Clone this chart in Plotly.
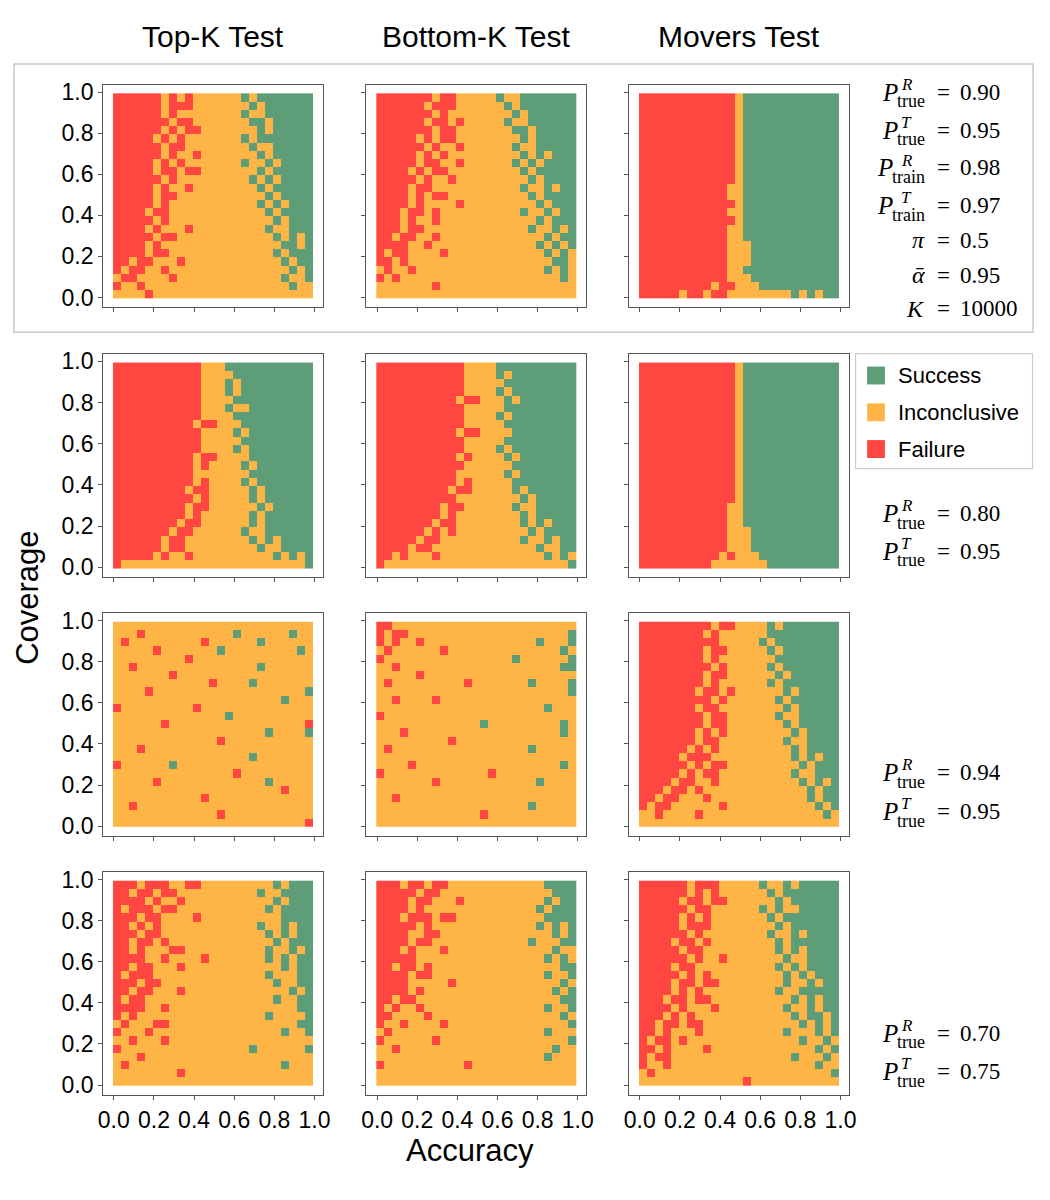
import plotly.graph_objects as go

# the page has an 8px body margin, so a 1034x1184 figure fills the 1050x1200 window exactly
PAGE_W, PAGE_H = 1050, 1200
MARGIN = 8
W, H = PAGE_W - 2 * MARGIN, PAGE_H - 2 * MARGIN

TESTS = ["Top-K Test", "Bottom-K Test", "Movers Test"]
OUTCOMES = ["Success", "Inconclusive", "Failure"]
OUTCOME_CODE = {"R": 0, "O": 1, "G": 2}
COLORS = {"Failure": "#ff4640", "Inconclusive": "#ffb545", "Success": "#5d9e79"}
TICKS = [0.0, 0.2, 0.4, 0.6, 0.8, 1.0]

# outcome grids: first string = coverage ~0.98, last = ~0.02,
# characters run over accuracy 0 -> 1.  R = failure, O = inconclusive, G = success
TOPK_090 = [
    "RRRRRROROROOOOOOGOGGGGGGG",
    "RRRRRRORRROOOOOOOGOGGGGGG",
    "RRRRRROROOOOOOOOGOOGGGGGG",
    "RRRRRRRORROOOOOOOGGOGGGGG",
    "RRRRRRORORROOOOOOOGOGGGGG",
    "RRRRROROROOOOOOOGOGGGGGGG",
    "RRRRRRORROOOOOOOOGOOGGGGG",
    "RRRRRROROOROOOOOOOGOGGGGG",
    "RRRRROROROOOOOOOGOOGOGGGG",
    "RRRRRORRORROOOOOOOGOGGGGG",
    "RRRRRROROOOOOOOOOGOGOGGGG",
    "RRRRROROOROOOOOOOOGOGGGGG",
    "RRRRRORROOOOOOOOOOOGOGGGG",
    "RRRRROROOOOOOOOOOOGOGOGGG",
    "RRRRORROOOOOOOOOOOOGOGGGG",
    "RRRRROROOOOOOOOOOOOOGOGGG",
    "RRRROROOOROOOOOOOOOGOOGGG",
    "RRRRRORROOOOOOOOOOOOGOGOG",
    "RRRROROOOOOOOOOOOOOOOGGOG",
    "RRRRORROOOOOOOOOOOOOGOGGG",
    "RRORROOOROOOOOOOOOOOOGOGG",
    "RORROOROOOOOOOOOOOOOOOGOG",
    "ORROOOOROOOOOOOOOOOOOGOOG",
    "ROOROOOOOOOOOOOOOOOOOOGOO",
    "OOOOROOOOOOOOOOOOOOOOOOOO",
]
BOTTOMK_090 = [
    "RRRRRRRORROOOOOGOOGGGGGGG",
    "RRRRRRORRROOOOOOGOGGGGGGG",
    "RRRRRRROROOOOOOOOGOGGGGGG",
    "RRRRRRORROROOOOOGOOGGGGGG",
    "RRRRRRRORROOOOOOOGGOGGGGG",
    "RRRRRORORROOOOOOOOGOGGGGG",
    "RRRRRROROOROOOOOOGOOGGGGG",
    "RRRRROROROOOOOOOOOGOGOGGG",
    "RRRRRORROOROOOOOOGOGOGGGG",
    "RRRRORORROOOOOOOOOGOGGGGG",
    "RRRRROROOROOOOOOOOOGOGGGG",
    "RRRRORROOOOOOOOOOOGOOGOGG",
    "RRRRORORROOOOOOOOOOGOGGGG",
    "RRRROROOOOROOOOOOOOOGOGGG",
    "RRRORROROOOOOOOOOOGOOGOGG",
    "RRROROOROOOOOOOOOOOOGOGGG",
    "RRRORROOOOOOOOOOOOOGOOGOG",
    "RRORROOROOOOOOOOOOOOOGOGG",
    "RRRROOROOOOOOOOOOOOOGOGOG",
    "RORROOOOROOOOOOOOOOOOGOGO",
    "RROROOOOOOOOOOOOOOOOOOGGO",
    "OROOROOOOOOOOOOOOOOOOGOGO",
    "ROROOOOOOOOOOOOOOOOOOOOGO",
    "OOOOOOOROOOOOOOOOOOOOOOOO",
    "OOOOOOOOOOOOOOOOOOOOOOOOO",
]
MOVERS_090 = [
    "RRRRRRRRRRRROGGGGGGGGGGGG",
    "RRRRRRRRRRRROGGGGGGGGGGGG",
    "RRRRRRRRRRRROGGGGGGGGGGGG",
    "RRRRRRRRRRRROGGGGGGGGGGGG",
    "RRRRRRRRRRRROGGGGGGGGGGGG",
    "RRRRRRRRRRRROGGGGGGGGGGGG",
    "RRRRRRRRRRRROGGGGGGGGGGGG",
    "RRRRRRRRRRRROGGGGGGGGGGGG",
    "RRRRRRRRRRRROGGGGGGGGGGGG",
    "RRRRRRRRRRRROGGGGGGGGGGGG",
    "RRRRRRRRRRRROGGGGGGGGGGGG",
    "RRRRRRRRRRROOGGGGGGGGGGGG",
    "RRRRRRRRRRROOGGGGGGGGGGGG",
    "RRRRRRRRRRRROGGGGGGGGGGGG",
    "RRRRRRRRRRROOGGGGGGGGGGGG",
    "RRRRRRRRRRRROGGGGGGGGGGGG",
    "RRRRRRRRRRROOGGGGGGGGGGGG",
    "RRRRRRRRRRROOGGGGGGGGGGGG",
    "RRRRRRRRRRROOOGGGGGGGGGGG",
    "RRRRRRRRRRROOOGGGGGGGGGGG",
    "RRRRRRRRRRROOOGGGGGGGGGGG",
    "RRRRRRRRRRROOGGGGGGGGGGGG",
    "RRRRRRRRRRROOOGGGGGGGGGGG",
    "RRRRRRRRRORROOOGGGGGGGGGG",
    "RRRRRORRORROOOOOOOOGOGOGG",
]
TOPK_080 = [
    "RRRRRRRRRRROOOGGGGGGGGGGG",
    "RRRRRRRRRRROOOOGGGGGGGGGG",
    "RRRRRRRRRRROOOGOGGGGGGGGG",
    "RRRRRRRRRRROOOGOGGGGGGGGG",
    "RRRRRRRRRRROOOOGGGGGGGGGG",
    "RRRRRRRRRRROOOGOOGGGGGGGG",
    "RRRRRRRRRRROOOOGGGGGGGGGG",
    "RRRRRRRRRRORROOOGGGGGGGGG",
    "RRRRRRRRRRROOOOGOGGGGGGGG",
    "RRRRRRRRRRROOOOOGGGGGGGGG",
    "RRRRRRRRRRROOOOGOGGGGGGGG",
    "RRRRRRRRRRORROOOOGGGGGGGG",
    "RRRRRRRRRROROOOOGOGGGGGGG",
    "RRRRRRRRRROOOOOOOGGGGGGGG",
    "RRRRRRRRRROROOOOGOGGGGGGG",
    "RRRRRRRRRORROOOOOGOGGGGGG",
    "RRRRRRRRRROROOOOOGOGGGGGG",
    "RRRRRRRRRORROOOOOOGOGGGGG",
    "RRRRRRRRROROOOOOOGOGGGGGG",
    "RRRRRRRRORROOOOOOGOGGGGGG",
    "RRRRRRRORROOOOOOGOOGGGGGG",
    "RRRRRRORROOOOOOOOGOGOGGGG",
    "RRRRRRORROOOOOOOOOGOOGGGG",
    "RRRRROROOROOOOOOOOOOGOGOG",
    "ROOOOOOOOOOOOOOOOOOOOOOOG",
]
BOTTOMK_080 = [
    "RRRRRRRRRRROOOOGGGGGGGGGG",
    "RRRRRRRRRRROOOOGOGGGGGGGG",
    "RRRRRRRRRRROOOOOGGGGGGGGG",
    "RRRRRRRRRRROOOOGOGGGGGGGG",
    "RRRRRRRRRRORROOOGOGGGGGGG",
    "RRRRRRRRRRROOOOOGGGGGGGGG",
    "RRRRRRRRRRROOOOGOGGGGGGGG",
    "RRRRRRRRRRROOOOOGGGGGGGGG",
    "RRRRRRRRRRORROOOOGGGGGGGG",
    "RRRRRRRRRRROOOOOGGGGGGGGG",
    "RRRRRRRRRRROOOOGOGGGGGGGG",
    "RRRRRRRRRROROOOOGOGGGGGGG",
    "RRRRRRRRRRROOOOOOGGGGGGGG",
    "RRRRRRRRRROOOOOOGOGGGGGGG",
    "RRRRRRRRRROROOOOOGGGGGGGG",
    "RRRRRRRRRORROOOOOGOGGGGGG",
    "RRRRRRRRRROOOOOOOOGOGGGGG",
    "RRRRRRRRORROOOOOOGOOGGGGG",
    "RRRRRRRROROOOOOOOOGOGGGGG",
    "RRRRRRRORROOOOOOOOGOGOGGG",
    "RRRRRROROROOOOOOOOOGOGGGG",
    "RRRRRORROOOOOOOOOOGOOGOGG",
    "RRRRORROOOOOOOOOOOOOGOOGG",
    "RROROOOROOOOOOOOOOOOOGOGO",
    "ROOOOOOOOOOOOOOOOOOOOOOOG",
]
MOVERS_080 = [
    "RRRRRRRRRRRROGGGGGGGGGGGG",
    "RRRRRRRRRRRROGGGGGGGGGGGG",
    "RRRRRRRRRRRROGGGGGGGGGGGG",
    "RRRRRRRRRRRROGGGGGGGGGGGG",
    "RRRRRRRRRRRROGGGGGGGGGGGG",
    "RRRRRRRRRRRROGGGGGGGGGGGG",
    "RRRRRRRRRRRROGGGGGGGGGGGG",
    "RRRRRRRRRRRROGGGGGGGGGGGG",
    "RRRRRRRRRRRROGGGGGGGGGGGG",
    "RRRRRRRRRRRROGGGGGGGGGGGG",
    "RRRRRRRRRRRROGGGGGGGGGGGG",
    "RRRRRRRRRRRROGGGGGGGGGGGG",
    "RRRRRRRRRRRROGGGGGGGGGGGG",
    "RRRRRRRRRRRROGGGGGGGGGGGG",
    "RRRRRRRRRRRROGGGGGGGGGGGG",
    "RRRRRRRRRRRROGGGGGGGGGGGG",
    "RRRRRRRRRRRROGGGGGGGGGGGG",
    "RRRRRRRRRRROOGGGGGGGGGGGG",
    "RRRRRRRRRRROOGGGGGGGGGGGG",
    "RRRRRRRRRRROOGGGGGGGGGGGG",
    "RRRRRRRRRRROOOGGGGGGGGGGG",
    "RRRRRRRRRRROOOGGGGGGGGGGG",
    "RRRRRRRRRRROOOGGGGGGGGGGG",
    "RRRRRRRRRROROOOGGGGGGGGGG",
    "RRRRRRRRROOOOOOOGGGGGGGGG",
]
TOPK_094 = [
    "OOOOOOOOOOOOOOOOOOOOOOOOO",
    "OOOROOOOOOOOOOOGOOOOOOGOO",
    "OROOOOOOOOOROOOOOOGOOOOOO",
    "OOOOOROOOOOOOGOOOOOOOOOGO",
    "OOOOOOOOOROOOOOOOOOOOOOOO",
    "OOROOOOOOOOOOOOOOOGOOOOOO",
    "OOOOOOOROOOOOOOOOOOOOOOOO",
    "OOOOOOOOOOOOROOOOGOOOOOOO",
    "OOOOROOOOOOOOOOOOOOOOOOOG",
    "OOOOOOOOOOOOOOOOOOOOOGOOO",
    "ROOOOOOOOOROOOOOOOOOOOOOO",
    "OOOOOOOOOOOOOOGOOOOOOOOOO",
    "OOOOOOROOOOOOOOOOOOOOOOOR",
    "OOOOOOOOOOOOOOOOOOOGOOOOG",
    "OOOOOOOOOOOOOROOOOOOOOOOO",
    "OOOROOOOOOOOOOOOOOOOOOOOO",
    "OOOOOOOOOOOOOOOOOGOOOOOOO",
    "ROOOOOOGOOOOOOOOOOOOOOOOO",
    "OOOOOOOOOOOOOOOROOOOOOOOO",
    "OOOOOROOOOOOOOOOOOOGOOOOO",
    "OOOOOOOOOOOOOOOOOOOOOROOO",
    "OOOOOOOOOOOROOOOOOOOOOOOO",
    "OOROOOOOOOOOOOOOOOOOOOOOO",
    "OOOOOOOOOOOOOROOOOOOOOOOO",
    "OOOOOOOOOOOOOOOOOOOOOOOOR",
]
BOTTOMK_094 = [
    "RROOOOOOOOOOOOOOOOOOOOOOO",
    "RORROOOOOOOOOOOOOOOOOOOOG",
    "ROROOROOOOOOOOOOOOOOGOOOG",
    "OROOOOOOROOOOOOOOOOOOOOGO",
    "ROOOOOOOOOOOOOOOOGOOOOOOG",
    "OOROOOOOOOOOOOOOOOOOOOOGG",
    "OOOOOROOOOOOOOOOOOOOOOOOO",
    "OROOOOOOOOOROOOOOOOGOOOOG",
    "OOOOOOOOOOOOOOOOOOOOOOOOG",
    "OOROOOOROOOOOOOOOOOOOOOOO",
    "OOOOOOOOOOOOOOOOOOOOOGOOO",
    "ROOOOOOOOOOOOOOOOOOOOOOOO",
    "OOOOOOOOOOOOOGOOOOOOOOOGO",
    "OOOROOOOOOOOOOOOOOOOOOOGO",
    "OOOOOOOOOROOOOOOOOOOOOOOO",
    "OROOOOOOOOOOOOOOOOOGOOOOO",
    "OOOOOOOOOOOOOOOOOOOOOOOOO",
    "OOOOROOOOOOOOOOOOOOOOOOGO",
    "ROOOOOOOOOOOOOROOOOOOOOOO",
    "OOOOOOOROOOOOOOOOOOOGOOOO",
    "OOOOOOOOOOOOOOOOOOOOOOOOO",
    "OOROOOOOOOOOOOOOOOOOOOOOO",
    "OOOOOOOOOOOOOOOOOOOGOOOOO",
    "OOOOOOOOOOOOOROOOOOOOOOOO",
    "OOOOOOOOOOOOOOOOOOOOOOOOO",
]
MOVERS_094 = [
    "RRRRRRRRRORROOOOGOGGGGGGG",
    "RRRRRRRROROOOOOOGGGGGGGGG",
    "RRRRRRRRRROOOOOGOGGGGGGGG",
    "RRRRRRRRORROOOOOGOGGGGGGG",
    "RRRRRRRROROOOOOOOGGGGGGGG",
    "RRRRRRRRROROOOOOGOGGGGGGG",
    "RRRRRRRRORROOOOOOGOGGGGGG",
    "RRRRRRRROROOOOOOGOGGGGGGG",
    "RRRRRRRORROROOOOOOGOGGGGG",
    "RRRRRRRRROROOOOOOGOGGGGGG",
    "RRRRRRRORROOOOOOOOGOGGGGG",
    "RRRRRRRRORROOOOOOGOOGGGGG",
    "RRRRRRRRORROOOOOOOGOGGGGG",
    "RRRRRRROROROOOOOOOOGOGGGG",
    "RRRRRRRORROOOOOOOOGOOGGGG",
    "RRRRRROROROOOOOOOOOGOGGGG",
    "RRRRRORRROOOOOOOOOOGOGOGG",
    "RRRRRRORORROOOOOOOOOGOGGG",
    "RRRRRORORROOOOOOOOOGOOGGG",
    "RRRRORROOROOOOOOOOOOGOGOG",
    "RRRORROROOOOOOOOOOOOOGOGG",
    "RRORROOOROOOOOOOOOOOOGOGG",
    "RORROOOOOOROOOOOOOOOOOGOG",
    "OOROOOOROOOOOOOOOOOOOOOGO",
    "OOOOOOOOOOOOOOOOOOOOOOOOO",
]
TOPK_070 = [
    "RRRORRROORROOOOOOOOOGOGGG",
    "RRORRORROOOOOOOOOOGOOGGGG",
    "RRRROROOROOOOOOOOOOOGOGGG",
    "RORRRORROOOOOOOOOOOGOGGGG",
    "RRRORROOOOROOOOOOOOOOGGGG",
    "RROROROOOOOOOOOOOOGOOGOGG",
    "RRRORROOOOOOOOOOOOOGOGOGG",
    "RRORROROOOOOOOOOOOOOGOGGG",
    "RROROOORROOOOOOOOOOGOOGOG",
    "RRRROOROOOOROOOOOOOGOGOGG",
    "RRORROOOROOOOOOOOOOOOGOGG",
    "RORRROOOOOOOOOOOOOOGOOOGG",
    "RRRORROOOOOOOOOOOOOOGOOGG",
    "RRORROOOROOOOOOOOOOOOOGOG",
    "RORROOOOOOOOOOOOOOOOGOOGG",
    "RRRROOROOOOOOOOOOOOOOOOGG",
    "ROROOOOOOOOOOOOOOOOGOOOOG",
    "OROOORROOOOOOOOOOOOOOOOGG",
    "ROOOROOOOOOOOOOOOOOOOGOOG",
    "OOROOOROOOOOOOOOOOOOOOOOO",
    "ROOOOOOOOOOOOOOOOGOOOOOOG",
    "OOOROOOOOOOOOOOOOOOOOOOOO",
    "OROOOOOOOOOOOOOOOOOOOGOOO",
    "OOOOOOOOROOOOOOOOOOOOOOOO",
    "OOOOOOOOOOOOOOOOOOOOOOOOO",
]
BOTTOMK_070 = [
    "RRRORRORROOOOOOOOOOOOGGGG",
    "RRRRRORROOOOOOOOOOOOOOGGG",
    "RRRRORROOOROOOOOOOOOOGOGG",
    "RRRROROOOOOOOOOOOOOOGOGGG",
    "RRRORRRORROOOOOOOOOOOGGGG",
    "RRRRROROOOOOOOOOOOOOGOGOG",
    "RRRROORROOOOOOOOOOOOOOGOG",
    "RRRRORROOOOOOOOOOOOGOOOGG",
    "RRROROOOROOOOOOOOOOOOOGOO",
    "RRRRROOOOOOOOOOOOOOOOGOGO",
    "RRORROROOOOOOOOOOOOOOOOGG",
    "RRRRORROOOOOOOOOOOOOOGOOG",
    "RRRROOOOOROOOOOOOOOOOOOGO",
    "RRRROROOOOOOOOOOOOOOOOGOG",
    "RRORROOOOOOOOOOOOOOOOOOGG",
    "ROROOROOOOOOOOOOOOOOOGOOG",
    "RROOOOROOOOOOOOOOOOOOOOGO",
    "ROOROOOOROOOOOOOOOOOOOOOG",
    "OROOOOOOOOOOOOOOOOOOOGOOO",
    "ROOOOOOROOOOOOOOOOOOOOOOG",
    "OOROOOOOOOOOOOOOOOOOOOGOO",
    "OOOOOOOOOOOOOOOOOOOOOGOOO",
    "ROOOOOOOOOOROOOOOOOOOOOOO",
    "OOOOOOOOOOOOOOOOOOOOOOOOO",
    "OOOOOOOOOOOOOOOOOOOOOOOOO",
]
MOVERS_070 = [
    "RRRRRRORRROOOOOGOOGOGGGGG",
    "RRRRRROROROOOOOOGOGGGGGGG",
    "RRRRRORRORROOOOOOGOGGGGGG",
    "RRRRRRORROOOOOOGOGOOGGGGG",
    "RRRRROROROOOOOOOGOGGGGGGG",
    "RRRRRORRROOOOOOOOGOGGGGGG",
    "RRRRRROROOOOOOOOGOOGOGGGG",
    "RRRRORROROOOOOOOOGOGGGGGG",
    "RRRRRORROOOOOOOOOGOGOGGGG",
    "RRRRRROROOROOOOOOOGOOGGGG",
    "RRRRORROOOOOOOOOOGOGOGGGG",
    "RRRRROROROOOOOOOOOGOGOGGG",
    "RRRRORRORROOOOOOOOGOOGOGG",
    "RRRROROROOOOOOOOOGOOGGGGG",
    "RRRORRORROOOOOOOOOOGOGOGG",
    "RRRROROOOROOOOOOOOGOOGOGG",
    "RRROROROOOOOOOOOOOOGOGGOG",
    "RRORRORROOOOOOOOOOOOGOGOG",
    "RROROOOROOOOOOOOOOGOOOGOG",
    "RORROROOOOOOOOOOOOOOGOOGO",
    "RROROOOOROOOOOOOOOOOOOGOG",
    "RORROOOOOOOOOOOOOOOGOOOGO",
    "ROOROOOOOOOOOOOOOOOOOOGOO",
    "OROOOOOOOOOOOOOOOOOOOOOOG",
    "OOOOOOOOOOOOOROOOOOOOOOOO",
]

PANELS = [
    [TOPK_090, BOTTOMK_090, MOVERS_090],
    [TOPK_080, BOTTOMK_080, MOVERS_080],
    [TOPK_094, BOTTOMK_094, MOVERS_094],
    [TOPK_070, BOTTOMK_070, MOVERS_070],
]

# (superscript, subscript, value) per row of panels
ROW_PARAMS = [
    [("R", "true", "0.90"), ("T", "true", "0.95"), ("R", "train", "0.98"), ("T", "train", "0.97")],
    [("R", "true", "0.80"), ("T", "true", "0.95")],
    [("R", "true", "0.94"), ("T", "true", "0.95")],
    [("R", "true", "0.70"), ("T", "true", "0.75")],
]
EXTRA_PARAMS = [("π", "0.5"), ("α\u0304", "0.95"), ("K", "10000")]

# layout, in pixels of the 1050x1200 window
COL_PX = [(99.3, 321.7), (366.0, 588.3), (632.0, 854.3)]
ROW_PX = [(80.0, 304.3), (351.0, 576.0), (612.0, 836.7), (872.7, 1097.3)]
PARAM_LINES_PX = [[88, 126, 164, 202, 237, 272, 306], [512, 550], [773, 812], [1035, 1074]]

SANS = "Liberation Sans, Arial, sans-serif"
SERIF = "Liberation Serif, Times New Roman, serif"


def px(x, y):
    return (x - MARGIN) / W, 1 - (y - MARGIN) / H


def text(t, x, y, size, family=SANS, xanchor="center", yanchor="middle", **kw):
    xp, yp = px(x, y)
    return dict(text=t, x=xp, y=yp, xref="paper", yref="paper", showarrow=False,
                font=dict(size=size, family=family, color="black"),
                xanchor=xanchor, yanchor=yanchor, **kw)


def rect(x0, y0, x1, y1, **kw):
    a, b = px(x0, y0)
    c, d = px(x1, y1)
    return dict(type="rect", xref="paper", yref="paper", x0=a, y0=b, x1=c, y1=d, **kw)


fig = go.Figure()
layout = dict(width=W, height=H, margin=dict(l=0, r=0, t=0, b=0),
              paper_bgcolor="white", plot_bgcolor="white", showlegend=False)
annotations = []
shapes = []

colorscale = [[0.0, COLORS["Failure"]], [0.5, COLORS["Inconclusive"]], [1.0, COLORS["Success"]]]

for r, row in enumerate(PANELS):
    for c, grid in enumerate(row):
        k = r * 3 + c + 1
        ncols = len(grid[0])
        nrows = len(grid)
        assert all(len(s) == ncols for s in grid), (r, c)
        z = [[OUTCOME_CODE[ch] for ch in s] for s in reversed(grid)]
        dx = 0.998 / ncols
        dy = 0.998 / nrows
        xa = "x" if k == 1 else f"x{k}"
        ya = "y" if k == 1 else f"y{k}"
        fig.add_trace(go.Heatmap(z=z, x0=-0.004 + dx / 2, dx=dx, y0=-0.004 + dy / 2, dy=dy,
                                 colorscale=colorscale, zmin=0, zmax=2, showscale=False,
                                 hoverinfo="skip", xaxis=xa, yaxis=ya))
        (x0, y1), (x1, y0) = px(COL_PX[c][0], ROW_PX[r][1]), px(COL_PX[c][1], ROW_PX[r][0])
        common = dict(tickvals=TICKS, tickformat=".1f", ticks="outside", ticklen=4,
                      tickcolor="#555", showline=True, linecolor="#555", linewidth=1,
                      mirror=True, showgrid=False, zeroline=False, fixedrange=True,
                      tickfont=dict(size=23, family=SANS, color="black"))
        layout["xaxis" if k == 1 else f"xaxis{k}"] = dict(
            domain=[x0, x1], anchor=ya, range=[-0.053, 1.041],
            showticklabels=(r == 3), **common)
        layout["yaxis" if k == 1 else f"yaxis{k}"] = dict(
            domain=[y1, y0], anchor=xa, range=[-0.048, 1.037],
            showticklabels=(c == 0), **common)

# column titles and axis titles
for c, name in enumerate(TESTS):
    annotations.append(text(name, (COL_PX[c][0] + COL_PX[c][1]) / 2, 32, 30))
annotations.append(text("Accuracy", 471, 1153, 31))
annotations.append(text("Coverage", 22, 597, 31, textangle=-90))

# parameter text: P, superscript, subscript and "= value" set as separate pieces
for r, params in enumerate(ROW_PARAMS):
    ys = PARAM_LINES_PX[r]
    for i, (sup, sub, val) in enumerate(params):
        y = ys[i]
        p_left = 886 if sub == "true" else 881
        annotations.append(text("<i>P</i>", p_left, y, 25, SERIF, xanchor="left"))
        annotations.append(text(f"<i>{sup}</i>", 905, y - 8, 17, SERIF, xanchor="left"))
        annotations.append(text(sub, 934, y + 9, 18, SERIF, xanchor="right"))
        annotations.append(text("=", 950, y, 23, SERIF))
        annotations.append(text(val, 965, y, 23, SERIF, xanchor="left"))
    if r == 0:
        for j, (sym, val) in enumerate(EXTRA_PARAMS):
            y = ys[len(params) + j]
            annotations.append(text(f"<i>{sym}</i>", 934, y, 24, SERIF, xanchor="right"))
            annotations.append(text("=", 950, y, 23, SERIF))
            annotations.append(text(val, 965, y, 23, SERIF, xanchor="left"))

# box around the first row (kept just inside the figure edges)
shapes.append(rect(MARGIN + 1, 59.3, PAGE_W - MARGIN - 1, 329.3,
                   line=dict(color="#c8c8c8", width=1.5), fillcolor="rgba(0,0,0,0)"))

# legend
shapes.append(rect(861.3, 351, 1040.5, 466.7, line=dict(color="#cccccc", width=1.2),
                   fillcolor="white"))
for i, name in enumerate(OUTCOMES):
    cy = 373 + 37 * i
    shapes.append(rect(873, cy - 9, 891, cy + 9, line=dict(width=0), fillcolor=COLORS[name]))
    annotations.append(text(name, 902, cy, 22, xanchor="left"))

layout["annotations"] = annotations
layout["shapes"] = shapes
fig.update_layout(**layout)
fig.write_html("out.html")
